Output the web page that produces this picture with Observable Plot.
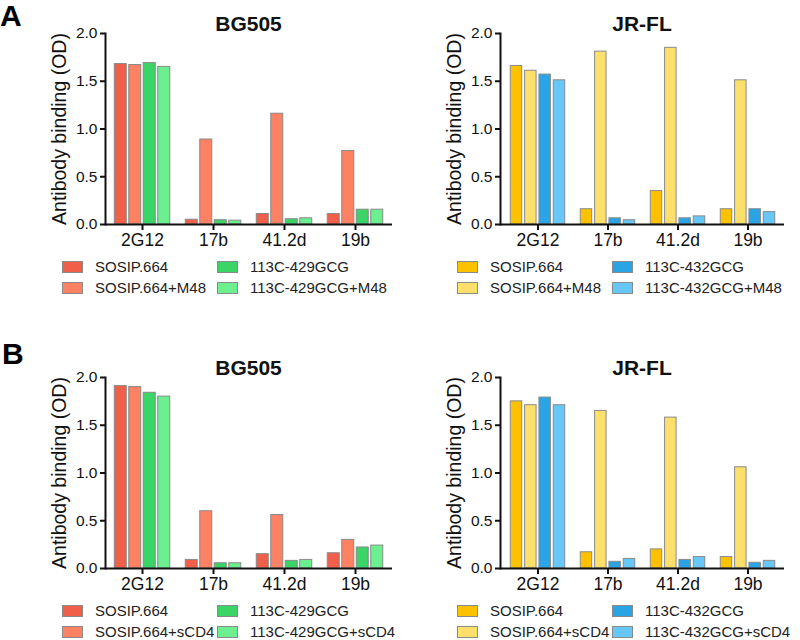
<!DOCTYPE html>
<html>
<head>
<meta charset="utf-8">
<script src="https://cdn.jsdelivr.net/npm/d3@7"></script>
<script src="https://cdn.jsdelivr.net/npm/@observablehq/plot@0.6"></script>
<style>
  html, body { margin: 0; padding: 0; background: #fff; }
  #root { position: relative; width: 800px; height: 640px; font-family: Arial, "Liberation Sans", sans-serif; color: #111; overflow: hidden; }
  .panel { position: absolute; }
  .letter { position: absolute; font-weight: bold; font-size: 30px; line-height: 1; color: #000; }
  .title { position: absolute; font-weight: bold; font-size: 21px; line-height: 1; transform: translateX(-50%); white-space: nowrap; color: #111; }
  .ylabel { position: absolute; font-size: 19.5px; line-height: 1; white-space: nowrap; transform: translate(-50%, -50%) rotate(-90deg); color: #111; }
  .leg { position: absolute; font-size: 15px; line-height: 1; white-space: nowrap; display: flex; align-items: center; color: #222; }
  .sw { display: inline-block; width: 19px; height: 10px; border: 1px solid #8a8a8a; margin-right: 12px; }
</style>
</head>
<body>
<div id="root"></div>
<script>
// ---- data ----
const antibodies = ["2G12", "17b", "41.2d", "19b"];

const seriesBG_M48 = ["SOSIP.664", "SOSIP.664+M48", "113C-429GCG", "113C-429GCG+M48"];
const seriesJR_M48 = ["SOSIP.664", "SOSIP.664+M48", "113C-432GCG", "113C-432GCG+M48"];
const seriesBG_sCD4 = ["SOSIP.664", "SOSIP.664+sCD4", "113C-429GCG", "113C-429GCG+sCD4"];
const seriesJR_sCD4 = ["SOSIP.664", "SOSIP.664+sCD4", "113C-432GCG", "113C-432GCG+sCD4"];

// values: one row per antibody, columns follow the series order
const valuesBG_M48 = [
  [1.68, 1.67, 1.69, 1.65],
  [0.05, 0.89, 0.045, 0.04],
  [0.11, 1.16, 0.055, 0.065],
  [0.11, 0.77, 0.155, 0.155]
];
const valuesJR_M48 = [
  [1.66, 1.61, 1.57, 1.51],
  [0.16, 1.81, 0.065, 0.045],
  [0.35, 1.85, 0.065, 0.085],
  [0.16, 1.51, 0.16, 0.13]
];
const valuesBG_sCD4 = [
  [1.91, 1.90, 1.84, 1.80],
  [0.09, 0.60, 0.055, 0.055],
  [0.15, 0.56, 0.08, 0.09],
  [0.16, 0.30, 0.22, 0.24]
];
const valuesJR_sCD4 = [
  [1.75, 1.71, 1.79, 1.71],
  [0.17, 1.65, 0.07, 0.10],
  [0.20, 1.58, 0.09, 0.12],
  [0.12, 1.06, 0.06, 0.08]
];

const yTicks = [0, 0.5, 1.0, 1.5, 2.0];
const colorsBG = ["#ef5f49", "#fd8264", "#3bd466", "#6cef8f"];
const colorsJR = ["#fcc200", "#fde06b", "#2ba4e5", "#67c7f9"];

// ---- drawing ----
const root = document.getElementById("root");
const W = 400, H = 255, MT = 33, MB = 31;
const PI = 0.19, PO = 0.1, GAP = 2.5;

function addDiv(cls, text, style) {
  const d = document.createElement("div");
  d.className = cls;
  if (text != null) d.textContent = text;
  Object.assign(d.style, style);
  root.appendChild(d);
  return d;
}

function panel({left, top, mL, mR, title, series, values, colors}) {
  const rows = [];
  values.forEach((row, a) => row.forEach((v, i) => rows.push({ab: antibodies[a], i, value: v})));
  const range = W - mL - mR;
  const step = range / (antibodies.length - PI + 2 * PO);
  const bw = step * (1 - PI);
  const slot = bw / series.length;
  const marks = series.map((s, i) =>
    Plot.barY(rows.filter(d => d.i === i), {
      x: "ab", y: "value", fill: colors[i], stroke: "#8a8a8a", strokeWidth: 1,
      insetLeft: i * slot + GAP / 2,
      insetRight: (series.length - 1 - i) * slot + GAP / 2
    })
  );
  const svg = Plot.plot({
    width: W, height: H,
    marginTop: MT, marginBottom: MB, marginLeft: mL, marginRight: mR,
    style: {fontFamily: "Arial, 'Liberation Sans', sans-serif", color: "#111", background: "transparent", overflow: "visible"},
    x: {domain: antibodies, paddingInner: PI, paddingOuter: PO},
    y: {domain: [0, 2]},
    marks: [
      ...marks,
      Plot.ruleY([0], {strokeWidth: 2, stroke: "#111"}),
      Plot.frame({anchor: "left", strokeWidth: 2, stroke: "#111"}),
      Plot.axisY({ticks: yTicks, tickFormat: d3.format(".1f"), tickSize: 5, tickPadding: 3, fontSize: 15.5, strokeWidth: 2, label: null}),
      Plot.axisX({tickSize: 6, tickPadding: 3, fontSize: 17.5, strokeWidth: 2, label: null})
    ]
  });
  svg.classList.add("panel");
  svg.style.left = left + "px";
  svg.style.top = top + "px";
  root.appendChild(svg);

  // title
  addDiv("title", title, {left: (left + mL + range / 2) + "px", top: (top + 13) + "px"});
  // y label
  addDiv("ylabel", "Antibody binding (OD)", {left: (left + mL - 45) + "px", top: (top + MT + (H - MT - MB) / 2) + "px"});
  // legend
  const col1 = left + mL - 43, col2 = left + mL + 112;
  series.forEach((s, i) => {
    const x = i < 2 ? col1 : col2;
    const y = top + 259 + (i % 2) * 21;
    const d = addDiv("leg", null, {left: x + "px", top: y + "px"});
    const sw = document.createElement("span");
    sw.className = "sw";
    sw.style.background = colors[i];
    d.appendChild(sw);
    d.appendChild(document.createTextNode(s));
  });
}

panel({left: 0, top: 0, mL: 105, mR: 8, title: "BG505", series: seriesBG_M48, values: valuesBG_M48, colors: colorsBG});
panel({left: 400, top: 0, mL: 100, mR: 16, title: "JR-FL", series: seriesJR_M48, values: valuesJR_M48, colors: colorsJR});
panel({left: 0, top: 344, mL: 105, mR: 8, title: "BG505", series: seriesBG_sCD4, values: valuesBG_sCD4, colors: colorsBG});
panel({left: 400, top: 344, mL: 100, mR: 16, title: "JR-FL", series: seriesJR_sCD4, values: valuesJR_sCD4, colors: colorsJR});

addDiv("letter", "A", {left: "0px", top: "1px"});
addDiv("letter", "B", {left: "2px", top: "339px"});
</script>
</body>
</html>
